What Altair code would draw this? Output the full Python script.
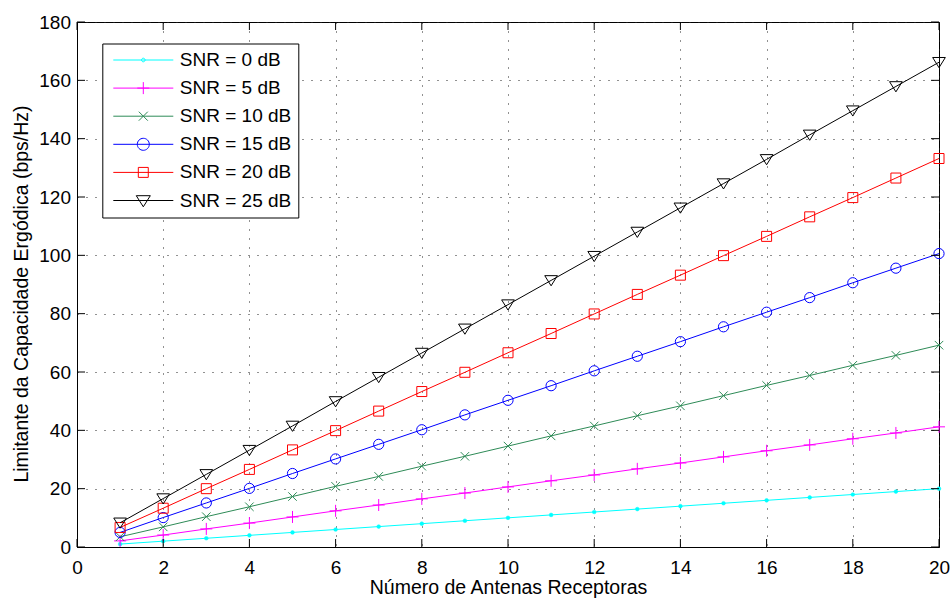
import altair as alt
import pandas as pd

# ---------------- data ----------------
antennas = list(range(1, 21))
series_names = ["SNR = 0 dB", "SNR = 5 dB", "SNR = 10 dB",
                "SNR = 15 dB", "SNR = 20 dB", "SNR = 25 dB"]
snr0 = [1.0, 2.0, 3.0, 4.0, 5.0, 6.0, 7.0, 8.0, 9.0, 10.0,
        11.0, 12.0, 13.0, 14.0, 15.0, 16.0, 17.0, 18.0, 19.0, 20.0]
snr5 = [2.1, 4.1, 6.2, 8.2, 10.3, 12.4, 14.4, 16.5, 18.5, 20.6,
        22.7, 24.7, 26.8, 28.8, 30.9, 33.0, 35.0, 37.1, 39.1, 41.2]
snr10 = [3.5, 6.9, 10.4, 13.8, 17.3, 20.8, 24.2, 27.7, 31.1, 34.6,
         38.1, 41.5, 45.0, 48.4, 51.9, 55.4, 58.8, 62.3, 65.7, 69.2]
snr15 = [5.0, 10.1, 15.1, 20.1, 25.2, 30.2, 35.2, 40.2, 45.3, 50.3,
         55.3, 60.4, 65.4, 70.4, 75.5, 80.5, 85.5, 90.6, 95.6, 100.6]
snr20 = [6.7, 13.3, 20.0, 26.6, 33.3, 39.9, 46.6, 53.3, 59.9, 66.6,
         73.2, 79.9, 86.6, 93.2, 99.9, 106.5, 113.2, 119.8, 126.5, 133.2]
snr25 = [8.3, 16.6, 24.9, 33.2, 41.5, 49.9, 58.2, 66.5, 74.8, 83.1,
         91.4, 99.7, 108.0, 116.3, 124.6, 132.9, 141.3, 149.6, 157.9, 166.2]
x_ticks = [0, 2, 4, 6, 8, 10, 12, 14, 16, 18, 20]
y_ticks = [0, 20, 40, 60, 80, 100, 120, 140, 160, 180]

all_values = [snr0, snr5, snr10, snr15, snr20, snr25]
colors = ["#00FFFF", "#FF00FF", "#2E8B57", "#0000FF", "#FF0000", "#000000"]

# ---------------- styles ----------------
W, H = 862, 525
FONT = "Liberation Sans"
TICK = 8

# marker styles for plotted points: (shape, size, filled)
markers = [
    ("circle", 14, True),
    ("M0,-1V1M-1,0H1", 144, False),
    ("M-1,-1L1,1M-1,1L1,-1", 72, False),
    ("circle", 104, False),
    ("square", 100, False),
    ("M-1,-0.75H1L0,0.85Z", 161, False),
]
# legend symbols: line segment + marker (unit = 6 px at size 144)
seg = "M-5,0H5"
legend_paths = [
    seg + "M0.3,0A0.3,0.3 0 1,1 -0.3,0A0.3,0.3 0 1,1 0.3,0",
    seg + "M0,-1V1M-1,0H1",
    seg + "M-0.75,-0.75L0.75,0.75M-0.75,0.75L0.75,-0.75",
    seg + "M1,0A1,1 0 1,1 -1,0A1,1 0 1,1 1,0",
    seg + "M-0.83,-0.83H0.83V0.83H-0.83Z",
    seg + "M-1.17,-0.8H1.17L0,1.05Z",
]

rows = []
for name, vals in zip(series_names, all_values):
    for n, v in zip(antennas, vals):
        rows.append({"N": n, "value": v, "series": name})
df = pd.DataFrame(rows)
xt_df = pd.DataFrame({"N": x_ticks})
yt_df = pd.DataFrame({"value": y_ticks})

x_scale = alt.Scale(domain=[0, 20], nice=False, zero=False)
y_scale = alt.Scale(domain=[0, 180], nice=False)

x_axis = alt.Axis(values=x_ticks, title="Número de Antenas Receptoras",
                  grid=True, gridDash=[1, 8], gridColor="#222222",
                  ticks=False, tickSize=0, labelPadding=11,
                  labelFontSize=19, titleFontSize=19.5,
                  titleBaseline="alphabetic", titleY=46.5,
                  domainColor="black", labelColor="black", titleColor="black",
                  labelFont=FONT, titleFont=FONT, titleFontWeight="normal",
                  labelFlush=False, labelOverlap=False)
y_axis = alt.Axis(values=y_ticks, title="Limitante da Capacidade Ergódica (bps/Hz)",
                  grid=True, gridDash=[1, 8], gridColor="#222222",
                  ticks=False, tickSize=0, labelPadding=6.5,
                  labelFontSize=19, titleFontSize=19.5,
                  titleBaseline="alphabetic", titleX=-50, titleY=271.5,
                  titleAngle=270,
                  domainColor="black", labelColor="black", titleColor="black",
                  labelFont=FONT, titleFont=FONT, titleFontWeight="normal",
                  labelFlush=False, labelOverlap=False)

X = alt.X("N:Q", scale=x_scale, axis=x_axis)
Y = alt.Y("value:Q", scale=y_scale, axis=y_axis)

layers = []
for name, col, (shape, size, filled) in zip(series_names, colors, markers):
    base = alt.Chart(df).transform_filter(alt.datum.series == name)
    layers.append(base.mark_line(color=col, strokeWidth=1).encode(x=X, y=Y))
    if filled:
        pt = base.mark_point(shape=shape, size=size, filled=True, fill=col,
                             stroke=col, strokeWidth=0.5, opacity=1)
    else:
        pt = base.mark_point(shape=shape, size=size, filled=False, color=col,
                             strokeWidth=1, opacity=1)
    layers.append(pt.encode(x=X, y=Y))

# inward ticks on all four sides
layers.append(alt.Chart(xt_df).mark_rule(color="black", strokeWidth=1).encode(
    x=X, y=alt.value(H - TICK), y2=alt.value(H)))
layers.append(alt.Chart(xt_df).mark_rule(color="black", strokeWidth=1).encode(
    x=X, y=alt.value(0), y2=alt.value(TICK)))
layers.append(alt.Chart(yt_df).mark_rule(color="black", strokeWidth=1).encode(
    y=Y, x=alt.value(0), x2=alt.value(TICK)))
layers.append(alt.Chart(yt_df).mark_rule(color="black", strokeWidth=1).encode(
    y=Y, x=alt.value(W - TICK), x2=alt.value(W)))

# legend carrier layer (no marks drawn)
leg = alt.Legend(title=None, orient="none", legendX=25.3, legendY=21.5,
                 strokeColor="black", fillColor="white", padding=7,
                 rowPadding=8.1, labelFontSize=19, labelFont=FONT,
                 labelColor="black", symbolOffset=24.5, labelOffset=27,
                 symbolSize=144, symbolStrokeWidth=1, symbolOpacity=1,
                 labelLimit=400, cornerRadius=0)
layers.append(
    alt.Chart(df).transform_filter("false")
    .mark_point(filled=False, opacity=1, strokeWidth=1, size=144)
    .encode(
        x=X, y=Y,
        color=alt.Color("series:N", scale=alt.Scale(domain=series_names, range=colors),
                        legend=leg),
        shape=alt.Shape("series:N", scale=alt.Scale(domain=series_names, range=legend_paths),
                        legend=leg),
    )
)

chart = alt.layer(*layers).properties(
    width=W, height=H,
    padding={"left": 77, "top": 22, "right": 12, "bottom": 52},
    autosize=alt.AutoSizeParams(type="none"),
    background="white",
).configure_view(stroke="black", strokeWidth=1)

chart.save("out.html", embed_options={"renderer": "svg", "actions": False})
